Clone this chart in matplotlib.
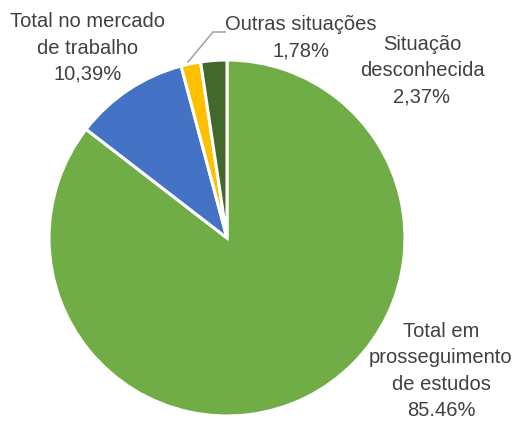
import matplotlib.pyplot as plt

# Situação dos diplomados (percentagem)
categorias = ["Total em\nprosseguimento\nde estudos", "Total no mercado\nde trabalho",
              "Outras situações", "Situação\ndesconhecida"]
valores = [85.46, 10.39, 1.78, 2.37]
rotulos_pct = ["85.46%", "10,39%", "1,78%", "2,37%"]
cores = ["#70AD47", "#4472C4", "#FFC000", "#43682B"]

W, H = 512, 421
fig = plt.figure(figsize=(W / 100, H / 100), dpi=100)
ax = fig.add_axes([0, 0, 1, 1])

# pie drawn in pixel-like coordinates (y up)
cx, cy, r = 227, H - 238, 178
ax.pie(valores, colors=cores, startangle=90, counterclock=False,
       center=(cx, cy), radius=r,
       wedgeprops=dict(edgecolor="white", linewidth=2.2))
ax.set_xlim(0, W)
ax.set_ylim(0, H)
ax.set_aspect("equal")
ax.axis("off")

fonte = dict(family=["Liberation Sans", "DejaVu Sans"], size=14.5,
             color="#404040", ha="center", va="center", linespacing=1.48)

# data labels: (x, y) in pixels from top-left
posicoes = [(441, 371), (88, 48), (301, 38), (422, 71)]
for nome, pct, (x, y) in zip(categorias, rotulos_pct, posicoes):
    ax.text(x, H - y, f"{nome}\n{pct}", **fonte)

# leader line for the small slice
ax.plot([188, 213, 225], [H - 62, H - 32, H - 32], color="#A6A6A6", lw=1.2)

fig.savefig("out.png", dpi=100)
